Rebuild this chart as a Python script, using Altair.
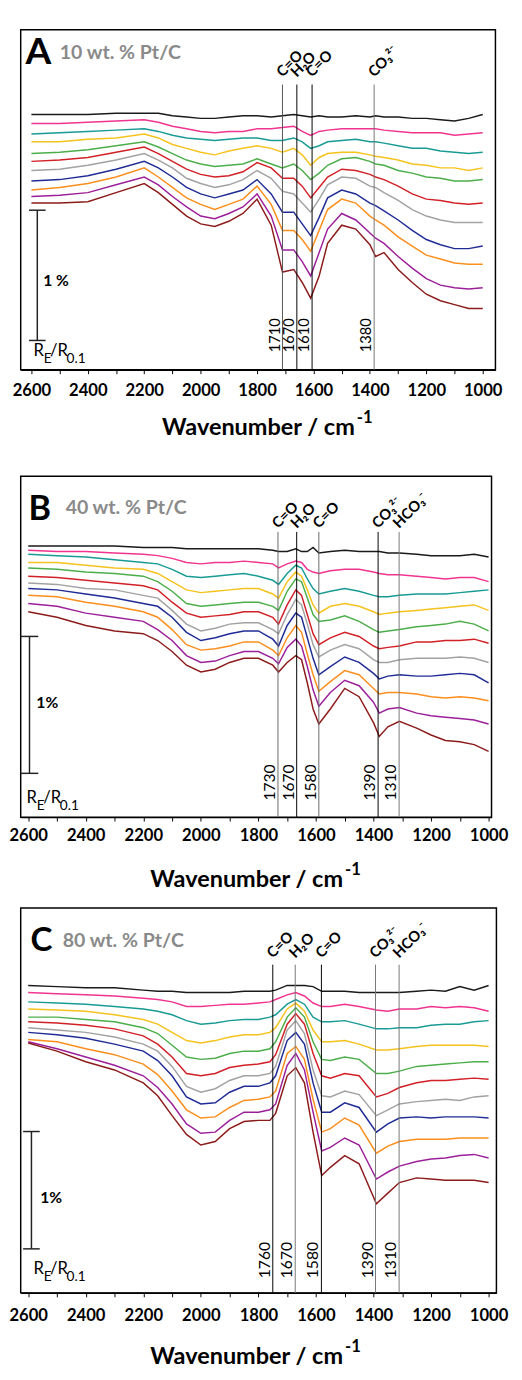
import altair as alt
import pandas as pd

FONT = "Lato"
SERIES = [f"Spectrum {i}" for i in range(1, 12)]
COLORS = ["#1a1a1a", "#f0348f", "#199b95", "#f6c21e", "#4cae4a", "#d22027",
          "#a2a2a2", "#202c95", "#fb8e1d", "#9c1f9a", "#8c1b1b"]

# ---------------- Panel A : 10 wt. % Pt/C ----------------
A_WN = [2600, 2500, 2400, 2300, 2200, 2150, 2100, 2050, 2000, 1950, 1900, 1850, 1800, 1750, 1710, 1670,
        1640, 1610, 1580, 1550, 1500, 1450, 1400, 1380, 1350, 1300, 1250, 1200, 1150, 1100, 1050, 1000]
A_BLACK = [1.96, 1.96, 1.96, 1.97, 1.97, 1.97, 1.95, 1.94, 1.93, 1.93, 1.94, 1.95, 1.95, 1.94, 1.95, 1.96,
           1.95, 1.94, 1.95, 1.94, 1.94, 1.95, 1.94, 1.95, 1.94, 1.94, 1.93, 1.93, 1.92, 1.91, 1.93, 1.96]
A_PINK = [1.89, 1.89, 1.90, 1.91, 1.92, 1.90, 1.87, 1.85, 1.83, 1.82, 1.83, 1.83, 1.85, 1.85, 1.86, 1.87,
          1.83, 1.80, 1.83, 1.84, 1.85, 1.85, 1.85, 1.85, 1.84, 1.83, 1.82, 1.82, 1.82, 1.80, 1.81, 1.82]
A_TEAL = [1.81, 1.82, 1.83, 1.84, 1.85, 1.83, 1.80, 1.78, 1.77, 1.76, 1.77, 1.78, 1.78, 1.76, 1.76, 1.78,
          1.75, 1.70, 1.72, 1.75, 1.76, 1.77, 1.75, 1.75, 1.74, 1.72, 1.70, 1.70, 1.68, 1.67, 1.66, 1.67]
A_GOLD = [1.75, 1.75, 1.77, 1.78, 1.81, 1.78, 1.73, 1.70, 1.67, 1.65, 1.68, 1.70, 1.72, 1.70, 1.67, 1.70,
          1.65, 1.57, 1.63, 1.66, 1.67, 1.67, 1.65, 1.64, 1.63, 1.61, 1.58, 1.57, 1.55, 1.55, 1.53, 1.55]
A_GREEN = [1.66, 1.67, 1.69, 1.72, 1.75, 1.71, 1.66, 1.61, 1.58, 1.56, 1.57, 1.58, 1.62, 1.58, 1.55, 1.58,
           1.53, 1.46, 1.51, 1.57, 1.62, 1.63, 1.60, 1.58, 1.57, 1.53, 1.51, 1.48, 1.47, 1.45, 1.45, 1.46]
A_RED = [1.60, 1.61, 1.63, 1.67, 1.71, 1.66, 1.60, 1.54, 1.50, 1.48, 1.49, 1.52, 1.59, 1.55, 1.47, 1.47,
         1.41, 1.32, 1.40, 1.48, 1.54, 1.53, 1.50, 1.48, 1.46, 1.41, 1.35, 1.31, 1.30, 1.28, 1.27, 1.28]
A_GRAY = [1.53, 1.54, 1.57, 1.61, 1.66, 1.61, 1.55, 1.47, 1.43, 1.40, 1.42, 1.46, 1.53, 1.47, 1.37, 1.35,
          1.28, 1.21, 1.31, 1.42, 1.48, 1.47, 1.41, 1.40, 1.36, 1.30, 1.23, 1.18, 1.15, 1.13, 1.13, 1.13]
A_NAVY = [1.45, 1.46, 1.49, 1.54, 1.60, 1.55, 1.48, 1.40, 1.35, 1.32, 1.35, 1.38, 1.46, 1.35, 1.21, 1.21,
          1.12, 1.03, 1.17, 1.32, 1.38, 1.35, 1.28, 1.26, 1.22, 1.15, 1.07, 1.00, 0.96, 0.93, 0.93, 0.95]
A_ORANGE = [1.38, 1.40, 1.43, 1.48, 1.55, 1.48, 1.40, 1.32, 1.27, 1.23, 1.27, 1.31, 1.41, 1.27, 1.07, 1.07,
            1.00, 0.91, 1.07, 1.23, 1.31, 1.28, 1.18, 1.15, 1.11, 1.02, 0.95, 0.88, 0.85, 0.82, 0.81, 0.81]
A_PURPLE = [1.33, 1.34, 1.36, 1.42, 1.48, 1.42, 1.33, 1.25, 1.18, 1.16, 1.20, 1.25, 1.35, 1.18, 0.92, 0.92,
            0.83, 0.72, 0.90, 1.08, 1.20, 1.15, 1.05, 1.01, 0.97, 0.87, 0.78, 0.70, 0.65, 0.63, 0.62, 0.63]
A_DARKRED = [1.28, 1.28, 1.29, 1.36, 1.43, 1.36, 1.27, 1.18, 1.12, 1.10, 1.14, 1.20, 1.31, 1.11, 0.75, 0.77,
             0.67, 0.55, 0.72, 0.97, 1.11, 1.08, 0.96, 0.87, 0.90, 0.77, 0.67, 0.58, 0.53, 0.50, 0.47, 0.47]
A_LINE_POS = [1710, 1659, 1605, 1385]
A_LINE_LABELS = ["1710", "1670", "1610", "1380"]
A_BAND_LABELS = ["C=O", "H\u2082O", "C=O", "CO\u2083\u00b2\u207b"]

# ---------------- Panel B : 40 wt. % Pt/C ----------------
B_WN = [2600, 2500, 2400, 2300, 2200, 2150, 2100, 2050, 2000, 1950, 1900, 1850, 1800, 1750, 1730, 1700, 1670,
        1650, 1630, 1610, 1590, 1550, 1500, 1450, 1400, 1380, 1350, 1310, 1250, 1200, 1150, 1100, 1050, 1000]
B_BLACK = [1.98, 1.98, 1.98, 1.98, 1.97, 1.97, 1.97, 1.96, 1.96, 1.96, 1.96, 1.96, 1.96, 1.95, 1.94, 1.94, 1.96,
           1.94, 1.94, 1.97, 1.93, 1.94, 1.95, 1.94, 1.94, 1.94, 1.93, 1.93, 1.92, 1.91, 1.91, 1.91, 1.92, 1.90]
B_PINK = [1.95, 1.94, 1.94, 1.93, 1.92, 1.91, 1.89, 1.86, 1.85, 1.86, 1.86, 1.87, 1.86, 1.85, 1.82, 1.85, 1.87,
          1.86, 1.81, 1.79, 1.78, 1.80, 1.81, 1.81, 1.79, 1.78, 1.77, 1.77, 1.76, 1.75, 1.74, 1.75, 1.75, 1.72]
B_TEAL = [1.92, 1.91, 1.90, 1.88, 1.86, 1.85, 1.81, 1.76, 1.75, 1.76, 1.77, 1.78, 1.76, 1.73, 1.70, 1.78, 1.84,
          1.82, 1.74, 1.67, 1.63, 1.65, 1.67, 1.65, 1.62, 1.61, 1.61, 1.62, 1.63, 1.63, 1.63, 1.64, 1.65, 1.66]
B_GOLD = [1.86, 1.86, 1.84, 1.82, 1.81, 1.78, 1.72, 1.66, 1.64, 1.65, 1.66, 1.67, 1.67, 1.63, 1.60, 1.72, 1.79,
          1.76, 1.66, 1.55, 1.49, 1.54, 1.56, 1.54, 1.50, 1.48, 1.49, 1.50, 1.51, 1.52, 1.53, 1.54, 1.55, 1.51]
B_GREEN = [1.82, 1.81, 1.79, 1.78, 1.76, 1.72, 1.65, 1.56, 1.54, 1.55, 1.56, 1.57, 1.57, 1.54, 1.51, 1.65, 1.74,
           1.72, 1.60, 1.48, 1.43, 1.44, 1.47, 1.43, 1.37, 1.35, 1.36, 1.37, 1.39, 1.40, 1.41, 1.43, 1.41, 1.36]
B_RED = [1.76, 1.75, 1.73, 1.71, 1.69, 1.66, 1.57, 1.49, 1.46, 1.47, 1.48, 1.50, 1.50, 1.46, 1.41, 1.55, 1.66,
         1.62, 1.48, 1.34, 1.26, 1.31, 1.35, 1.32, 1.25, 1.23, 1.24, 1.25, 1.28, 1.28, 1.29, 1.29, 1.30, 1.27]
B_GRAY = [1.71, 1.70, 1.67, 1.66, 1.62, 1.60, 1.51, 1.41, 1.36, 1.38, 1.41, 1.42, 1.42, 1.37, 1.34, 1.48, 1.59,
          1.55, 1.41, 1.26, 1.17, 1.22, 1.26, 1.23, 1.15, 1.13, 1.13, 1.15, 1.16, 1.16, 1.16, 1.17, 1.16, 1.13]
B_NAVY = [1.67, 1.66, 1.63, 1.60, 1.56, 1.54, 1.46, 1.35, 1.29, 1.31, 1.34, 1.36, 1.36, 1.30, 1.25, 1.40, 1.49,
          1.46, 1.31, 1.16, 1.04, 1.10, 1.17, 1.13, 1.05, 1.01, 1.03, 1.04, 1.03, 1.03, 1.04, 1.05, 1.04, 0.98]
B_ORANGE = [1.62, 1.61, 1.57, 1.54, 1.50, 1.46, 1.37, 1.26, 1.22, 1.23, 1.25, 1.28, 1.28, 1.22, 1.18, 1.31, 1.40,
            1.35, 1.19, 1.04, 0.92, 0.99, 1.07, 1.04, 0.94, 0.90, 0.91, 0.91, 0.90, 0.88, 0.87, 0.88, 0.87, 0.85]
B_PURPLE = [1.56, 1.54, 1.49, 1.46, 1.43, 1.37, 1.29, 1.18, 1.13, 1.14, 1.18, 1.21, 1.21, 1.16, 1.12, 1.24, 1.30,
            1.25, 1.10, 0.93, 0.81, 0.91, 1.00, 0.96, 0.84, 0.76, 0.79, 0.80, 0.76, 0.74, 0.73, 0.72, 0.71, 0.68]
B_DARKRED = [1.50, 1.46, 1.40, 1.36, 1.34, 1.29, 1.21, 1.11, 1.06, 1.08, 1.13, 1.16, 1.16, 1.11, 1.06, 1.13, 1.18,
             1.15, 0.98, 0.79, 0.68, 0.79, 0.94, 0.88, 0.69, 0.59, 0.66, 0.70, 0.65, 0.60, 0.56, 0.55, 0.53, 0.48]
B_LINE_POS = [1732, 1667, 1590, 1384, 1311]
B_LINE_LABELS = ["1730", "1670", "1580", "1390", "1310"]
B_BAND_LABELS = ["C=O", "H\u2082O", "C=O", "CO\u2083\u00b2\u207b", "HCO\u2083\u207b"]

# ---------------- Panel C : 80 wt. % Pt/C ----------------
C_WN = [2600, 2500, 2400, 2300, 2200, 2150, 2100, 2050, 2000, 1950, 1900, 1850, 1800, 1760, 1740, 1700,
        1670, 1640, 1610, 1580, 1550, 1500, 1450, 1390, 1350, 1310, 1250, 1200, 1150, 1100, 1050, 1000]
C_BLACK = [2.62, 2.61, 2.60, 2.60, 2.58, 2.57, 2.57, 2.56, 2.56, 2.56, 2.56, 2.57, 2.57, 2.57, 2.58, 2.62,
           2.62, 2.62, 2.61, 2.57, 2.57, 2.57, 2.56, 2.56, 2.56, 2.56, 2.57, 2.58, 2.57, 2.61, 2.58, 2.62]
C_PINK = [2.56, 2.55, 2.54, 2.53, 2.51, 2.50, 2.48, 2.44, 2.44, 2.45, 2.46, 2.46, 2.47, 2.48, 2.50, 2.54,
          2.56, 2.53, 2.47, 2.44, 2.44, 2.46, 2.44, 2.41, 2.40, 2.42, 2.42, 2.44, 2.43, 2.44, 2.43, 2.40]
C_TEAL = [2.48, 2.47, 2.46, 2.44, 2.42, 2.40, 2.37, 2.32, 2.29, 2.30, 2.32, 2.33, 2.33, 2.35, 2.37, 2.46,
          2.50, 2.46, 2.35, 2.31, 2.31, 2.32, 2.29, 2.25, 2.25, 2.26, 2.26, 2.28, 2.29, 2.29, 2.31, 2.32]
C_GOLD = [2.42, 2.41, 2.40, 2.37, 2.33, 2.29, 2.22, 2.15, 2.13, 2.15, 2.18, 2.20, 2.20, 2.22, 2.26, 2.42,
          2.47, 2.40, 2.24, 2.14, 2.14, 2.15, 2.12, 2.07, 2.07, 2.08, 2.10, 2.11, 2.11, 2.11, 2.11, 2.10]
C_GREEN = [2.35, 2.35, 2.33, 2.31, 2.26, 2.21, 2.11, 2.01, 1.99, 2.00, 2.04, 2.06, 2.06, 2.08, 2.14, 2.35,
           2.43, 2.35, 2.14, 1.99, 1.98, 2.01, 1.99, 1.87, 1.87, 1.89, 1.93, 1.94, 1.95, 1.96, 1.97, 1.97]
C_RED = [2.31, 2.30, 2.28, 2.25, 2.19, 2.12, 2.01, 1.87, 1.85, 1.87, 1.92, 1.94, 1.95, 1.97, 2.03, 2.29,
         2.38, 2.29, 2.04, 1.85, 1.83, 1.87, 1.85, 1.67, 1.70, 1.75, 1.79, 1.81, 1.81, 1.82, 1.83, 1.82]
C_GRAY = [2.26, 2.24, 2.22, 2.18, 2.12, 2.06, 1.93, 1.76, 1.71, 1.74, 1.81, 1.85, 1.85, 1.87, 1.93, 2.24,
          2.32, 2.21, 1.90, 1.68, 1.67, 1.72, 1.69, 1.51, 1.56, 1.61, 1.63, 1.64, 1.65, 1.64, 1.67, 1.68]
C_NAVY = [2.22, 2.20, 2.17, 2.12, 2.06, 1.98, 1.85, 1.67, 1.61, 1.62, 1.71, 1.76, 1.76, 1.79, 1.85, 2.15,
          2.22, 2.12, 1.79, 1.54, 1.54, 1.62, 1.58, 1.37, 1.44, 1.49, 1.50, 1.49, 1.50, 1.50, 1.50, 1.49]
C_ORANGE = [2.16, 2.14, 2.08, 2.03, 1.95, 1.86, 1.72, 1.56, 1.49, 1.50, 1.58, 1.64, 1.65, 1.67, 1.72, 2.04,
            2.10, 1.99, 1.65, 1.37, 1.40, 1.49, 1.43, 1.19, 1.25, 1.29, 1.31, 1.31, 1.31, 1.32, 1.32, 1.32]
C_PURPLE = [2.14, 2.08, 2.01, 1.94, 1.85, 1.75, 1.61, 1.44, 1.36, 1.37, 1.47, 1.54, 1.54, 1.56, 1.61, 1.94,
            2.04, 1.90, 1.54, 1.21, 1.24, 1.32, 1.26, 0.97, 1.03, 1.08, 1.12, 1.14, 1.15, 1.17, 1.18, 1.15]
C_DARKRED = [2.13, 2.06, 1.97, 1.90, 1.79, 1.68, 1.51, 1.35, 1.26, 1.29, 1.40, 1.46, 1.47, 1.47, 1.53, 1.85,
             1.92, 1.79, 1.37, 1.00, 1.07, 1.17, 1.10, 0.76, 0.85, 0.94, 0.98, 0.97, 0.96, 0.96, 0.96, 0.94]
C_LINE_POS = [1750, 1672, 1581, 1393, 1311]
C_LINE_LABELS = ["1760", "1670", "1580", "1390", "1310"]
C_BAND_LABELS = ["C=O", "H\u2082O", "C=O", "CO\u2083\u00b2\u207b", "HCO\u2083\u207b"]

SCALE_BAR = 1.0  # 1 % reflectance change


def spectra_frame(wn, curves):
    rows = []
    for name, vals in zip(SERIES, curves):
        for w, v in zip(wn, vals):
            rows.append({"wn": w, "val": v, "series": name})
    return pd.DataFrame(rows)


def ptext(txt, x, y, size, weight="normal", color="black", align="left", baseline="alphabetic"):
    return alt.Chart(alt.Data(values=[{}])).mark_text(
        font=FONT, fontSize=size, fontWeight=weight, color=color, align=align, baseline=baseline
    ).encode(x=alt.value(x), y=alt.value(y), text=alt.value(txt))


def build_panel(p):
    W, H = p["width"], p["height"]
    xscale = alt.Scale(domain=[p["xmin"], p["xmax"]], reverse=True, nice=False, zero=False)
    yscale = alt.Scale(domain=[0, p["ymax"]], nice=False, zero=False)
    axis = alt.Axis(values=list(range(1000, 2601, 100)), format="d",
                    labelExpr="datum.value % 200 == 0 ? datum.label : ''",
                    tickSize=4, tickColor="black", tickWidth=1,
                    domainColor="black", domainWidth=1.5, grid=False,
                    labelFont=FONT, labelFontSize=17, labelFontWeight="bold", labelColor="black",
                    labelPadding=p["label_pad"], labelOverlap=False, labelFlush=False)
    X = alt.X("wn:Q", scale=xscale, axis=axis, title=None)

    df = spectra_frame(p["wn"], p["curves"])
    lines = alt.Chart(df).mark_line(strokeWidth=1.5).encode(
        x=X,
        y=alt.Y("val:Q", scale=yscale, axis=None),
        color=alt.Color("series:N", scale=alt.Scale(domain=SERIES, range=COLORS), legend=None),
    )

    rdf = pd.DataFrame({"wn": p["line_pos"], "num": p["line_labels"], "band": p["band_labels"],
                        "col": p["line_colors"]})
    rules = alt.Chart(rdf).mark_rule(strokeWidth=1).encode(
        x=X, y=alt.value(p["line_top"]), y2=alt.value(H), color=alt.Color("col:N", scale=None))
    band_txt = alt.Chart(rdf).mark_text(angle=315, align="left", baseline="alphabetic", font=FONT,
                                        fontSize=15, fontWeight="bold", color="black").encode(
        x=X, y=alt.value(p["band_y"]), text="band:N")
    num_txt = alt.Chart(rdf).mark_text(angle=270, align="left", baseline="alphabetic", font=FONT,
                                       fontSize=p["num_size"], dy=-3, color="black").encode(
        x=X, y=alt.value(p["num_y"]), text="num:N")

    y0 = p["bar_y0"]
    bar = alt.Chart(pd.DataFrame({"y0": [y0], "y1": [y0 + SCALE_BAR]})).mark_rule(
        color="#222222", strokeWidth=1.5).encode(
        x=alt.value(p["bar_x"]), y=alt.Y("y0:Q", scale=yscale, axis=None), y2="y1:Q")
    caps = alt.Chart(pd.DataFrame({"y": [y0, y0 + SCALE_BAR]})).mark_rule(
        color="#222222", strokeWidth=1.5).encode(
        x=alt.value(p["bar_x"] - p["cap"]), x2=alt.value(p["bar_x"] + p["cap"]),
        y=alt.Y("y:Q", scale=yscale, axis=None))

    rx, ry = p["r_x"], p["r_y"]
    texts = [
        ptext(p["letter"], p["letter_x"], p["letter_y"], p["letter_size"], "bold"),
        ptext(p["sub"], p["sub_x"], p["sub_y"], 20, "bold", "#8a8a8a"),
        ptext(p["pct"], p["pct_x"], p["pct_y"], 16, "bold"),
        ptext("R", rx, ry, 17),
        ptext("E", rx + 10.5, ry + 7, 14),
        ptext("/R", rx + 17, ry, 17),
        ptext("0.1", rx + 34, ry + 7, 14),
        ptext("Wavenumber / cm", p["title_end"], p["title_y"], 24, "bold", align="right"),
        ptext("-1", p["title_end"] + 2, p["title_y"] - 12, 17, "bold"),
    ]
    layers = [lines, rules, band_txt, num_txt, bar, caps] + texts
    if p.get("filler") is not None:
        layers.append(alt.Chart(alt.Data(values=[{}])).mark_rule(color="white", strokeWidth=1).encode(
            x=alt.value(0), x2=alt.value(1), y=alt.value(p["filler"])))
    return alt.layer(*layers).properties(width=W, height=H)


PANEL_A = dict(wn=A_WN, curves=[A_BLACK, A_PINK, A_TEAL, A_GOLD, A_GREEN, A_RED, A_GRAY, A_NAVY,
                                A_ORANGE, A_PURPLE, A_DARKRED],
               line_pos=A_LINE_POS, line_labels=A_LINE_LABELS, band_labels=A_BAND_LABELS,
               line_colors=["#555555", "#000000", "#000000", "#777777"],
               letter="A", letter_size=38, letter_x=5, letter_y=35, sub="10 wt. % Pt/C", sub_x=40, sub_y=30,
               width=486, height=348, xmin=955, xmax=2638, ymax=2.61, label_pad=9,
               line_top=56, band_y=49, num_y=330, num_size=15,
               bar_x=17, bar_y0=0.225, cap=8.5, pct="1 %", pct_x=23, pct_y=262,
               r_x=13, r_y=333.7, title_end=342, title_y=415, filler=454)

PANEL_B = dict(wn=B_WN, curves=[B_BLACK, B_PINK, B_TEAL, B_GOLD, B_GREEN, B_RED, B_GRAY, B_NAVY,
                                B_ORANGE, B_PURPLE, B_DARKRED],
               line_pos=B_LINE_POS, line_labels=B_LINE_LABELS, band_labels=B_BAND_LABELS,
               line_colors=["#666666", "#000000", "#666666", "#000000", "#777777"],
               letter="B", letter_size=35, letter_x=8, letter_y=45, sub="40 wt. % Pt/C", sub_x=46, sub_y=39,
               width=482, height=349, xmin=989.8, xmax=2626.1, ymax=2.49, label_pad=7,
               line_top=57, band_y=54, num_y=332, num_size=16,
               bar_x=9, bar_y0=0.32, cap=9, pct="1%", pct_x=16, pct_y=237,
               r_x=6, r_y=335, title_end=330, title_y=420, filler=439)

PANEL_C = dict(wn=C_WN, curves=[C_BLACK, C_PINK, C_TEAL, C_GOLD, C_GREEN, C_RED, C_GRAY, C_NAVY,
                                C_ORANGE, C_PURPLE, C_DARKRED],
               line_pos=C_LINE_POS, line_labels=C_LINE_LABELS, band_labels=C_BAND_LABELS,
               line_colors=["#000000", "#777777", "#000000", "#777777", "#777777"],
               letter="C", letter_size=34, letter_x=10, letter_y=44, sub="80 wt. % Pt/C", sub_x=43, sub_y=40,
               width=487, height=394, xmin=972.8, xmax=2626.1, ymax=3.28, label_pad=11,
               line_top=58, band_y=52, num_y=379, num_size=16,
               bar_x=11, bar_y0=0.375, cap=8.5, pct="1%", pct_x=20, pct_y=302,
               r_x=13, r_y=375, title_end=330, title_y=467, filler=None)

chart = alt.vconcat(build_panel(PANEL_A), build_panel(PANEL_B), build_panel(PANEL_C), spacing=0).properties(
    padding={"left": 0, "top": 5, "right": 5, "bottom": 0}
).configure_view(stroke="black", strokeWidth=1.5)

chart.save("out.html", embed_options={"renderer": "svg", "actions": False})
